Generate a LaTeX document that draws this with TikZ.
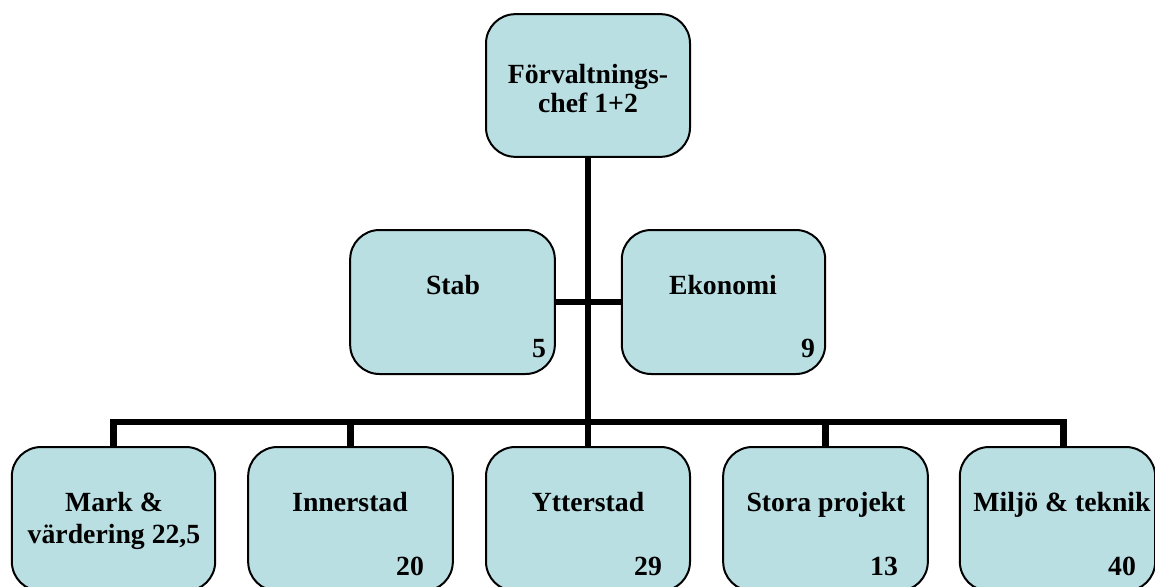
\documentclass[tikz,border=0pt]{standalone}
\usepackage{fontspec}
\setmainfont{Liberation Serif}
\definecolor{boxfill}{RGB}{186,223,227}
\begin{document}
\begin{tikzpicture}[x=0.75pt,y=-0.75pt,
  orgbox/.style={draw=black,line width=1.5pt,fill=boxfill,rounded corners=22pt,
    rectangle,inner sep=0pt,minimum height=108pt},
  lbl/.style={anchor=base,inner sep=0pt,font=\fontsize{20.8}{24}\selectfont\bfseries},
  conn/.style={line width=4.6pt,line join=miter,line cap=butt}]
\useasboundingbox (0,0) rectangle (1155,586);
\clip (0,0) rectangle (1155,586);
% boxes
\node[orgbox,minimum width=153pt,minimum height=107pt] (top) at (588,85.5) {};
\node[orgbox,minimum width=153.5pt] (stab) at (452.5,302) {};
\node[orgbox,minimum width=152.5pt] (eko) at (723.5,302) {};
\node[orgbox,minimum width=152.5pt] (mark) at (113.5,519) {};
\node[orgbox,minimum width=153.5pt] (inner) at (350.5,519) {};
\node[orgbox,minimum width=153pt] (ytter) at (588,519) {};
\node[orgbox,minimum width=153.5pt] (stora) at (825.5,519) {};
\node[orgbox,minimum width=146.5pt] (milj) at (1057.5,519) {};
% connectors
\coordinate (bus) at (588,422);
\draw[conn] (top.south) -- (bus);
\draw[conn] (stab.east) -- (eko.west);
\draw[conn] (mark.north) -- (mark.north |- bus) -- ([xshift=4.5pt]milj.north |- bus) -- ([xshift=4.5pt]milj.north);
\draw[conn] (inner.north) -- (inner.north |- bus);
\draw[conn] (stora.north) -- (stora.north |- bus);
\draw[conn] (ytter.north) -- (bus);
% texts
\node[lbl] (t1) at (588,83) {Förvaltnings-};
\node[lbl] (t2) at (588,112) {chef 1+2};
\node[lbl] (s1) at (453,294) {Stab};
\node[lbl] (s2) at (539,357) {5};
\node[lbl] (e1) at (723,294) {Ekonomi};
\node[lbl] (e2) at (808,357) {9};
\node[lbl] (m1) at (114,511) {Mark \&};
\node[lbl] (m2) at (114,543) {värdering 22,5};
\node[lbl] (i1) at (350,511) {Innerstad};
\node[lbl] (i2) at (410,575) {20};
\node[lbl] (y1) at (588,511) {Ytterstad};
\node[lbl] (y2) at (648,575) {29};
\node[lbl] (p1) at (826,511) {Stora projekt};
\node[lbl] (p2) at (884,575) {13};
\node[lbl] (j1) at (1062,511) {Miljö \& teknik};
\node[lbl] (j2) at (1122,575) {40};
\end{tikzpicture}
\end{document}
